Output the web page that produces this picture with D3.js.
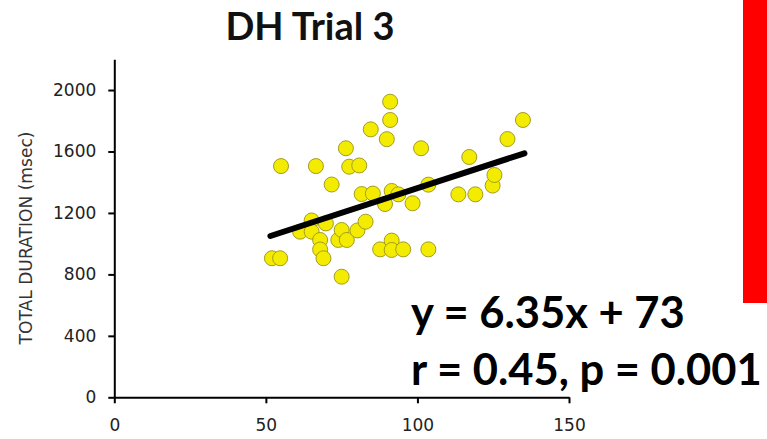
<!DOCTYPE html>
<html lang="en">
<head>
<meta charset="UTF-8">
<title>DH Trial 3</title>
<script src="https://d3js.org/d3.v7.min.js"></script>
<style>
    body { margin: 0; padding: 0; background: #fff; }
    svg { display: block; }
    .axis path, .axis line { stroke: #000; stroke-width: 2; }
</style>
</head>
<body>
<script>
    // data
    var speed = [52, 54.7, 55, 61.3, 65.1, 65.1, 66.5, 67.9, 67.9, 69, 69.8, 71.7, 73.9, 75, 75,
        76.4, 76.7, 77.5, 80.2, 80.8, 81.6, 82.9, 84.6, 85.3, 87.7, 89.3, 89.9, 91, 91, 91.5,
        91.5, 91.5, 93.7, 95.3, 98.4, 101.2, 103.6, 103.6, 113.5, 117.1, 119.1, 124.8, 125.4, 129.7, 134.8]
    var duration = [905, 905, 1505, 1078, 1151, 1078, 1505, 1024, 962, 905, 1132, 1385, 1024, 1089, 785,
        1621, 1024, 1501, 1086, 1509, 1323, 1143, 1744, 1326, 963, 1258, 1680, 1924, 1805, 1343,
        1020, 959, 1321, 963, 1263, 1621, 1384, 963, 1321, 1564, 1321, 1378, 1447, 1681, 1805]
    var fitX = [51.5, 135.3]
    var fitY = [1050, 1588]
    var xTicks = [0, 50, 100, 150]
    var yTicks = [0, 400, 800, 1200, 1600, 2000]
    var title = 'DH Trial 3'
    var yLabel = 'TOTAL DURATION (msec)'
    var statLines = ['y = 6.35x + 73', 'r = 0.45, p = 0.001']

    var svg = d3.select('body').append('svg')
        .attr('width', 767)
        .attr('height', 439)

    var x = d3.scaleLinear().domain([0, 150]).range([114.3, 569])
    var y = d3.scaleLinear().domain([0, 2200]).range([397.3, 59.3])

    var xAxis = svg.append('g')
        .attr('class', 'axis')
        .attr('transform', 'translate(0,' + y(0) + ')')
        .call(d3.axisBottom(x).tickValues(xTicks).tickFormat(d3.format('d'))
            .tickSize(6).tickSizeOuter(0).tickPadding(16))

    var yAxis = svg.append('g')
        .attr('class', 'axis')
        .attr('transform', 'translate(' + x(0) + ',0)')
        .call(d3.axisLeft(y).tickValues(yTicks).tickFormat(d3.format('d'))
            .tickSize(6).tickSizeOuter(0).tickPadding(12))

    svg.selectAll('.axis text')
        .style('font-family', '"DejaVu Sans", Verdana, sans-serif')
        .style('font-size', '17px')
        .style('fill', '#222')

    svg.append('text')
        .attr('transform', 'translate(32,238) rotate(-90)')
        .attr('text-anchor', 'middle')
        .attr('textLength', 213)
        .attr('lengthAdjust', 'spacingAndGlyphs')
        .style('font-family', '"DejaVu Sans", Verdana, sans-serif')
        .style('font-size', '17px')
        .style('fill', '#333')
        .text(yLabel)

    svg.append('text')
        .attr('x', 310)
        .attr('y', 40)
        .attr('text-anchor', 'middle')
        .style('font-family', 'Lato, sans-serif')
        .style('font-weight', 'bold')
        .style('font-size', '38px')
        .style('fill', '#111')
        .text(title)

    // points
    svg.selectAll('circle')
        .data(speed)
        .enter()
        .append('circle')
        .attr('cx', function (d) { return x(d) })
        .attr('cy', function (d, i) { return y(duration[i]) })
        .attr('r', 7.5)
        .attr('fill', '#f4ec00')
        .attr('stroke', '#a39c22')
        .attr('stroke-width', 1)

    // fit line
    svg.append('line')
        .attr('x1', x(fitX[0]))
        .attr('y1', y(fitY[0]))
        .attr('x2', x(fitX[1]))
        .attr('y2', y(fitY[1]))
        .attr('stroke', '#000')
        .attr('stroke-width', 6)
        .attr('stroke-linecap', 'round')

    svg.selectAll('.stat')
        .data(statLines)
        .enter()
        .append('text')
        .attr('class', 'stat')
        .attr('x', 411)
        .attr('y', function (d, i) { return 328 + i * 57 })
        .style('font-family', 'Lato, sans-serif')
        .style('font-weight', 'bold')
        .style('font-size', '43.5px')
        .style('fill', '#000')
        .text(function (d) { return d })

    // red box on the right edge
    svg.append('rect')
        .attr('x', 743)
        .attr('y', 0)
        .attr('width', 24)
        .attr('height', 303)
        .attr('fill', '#ff0000')
</script>
</body>
</html>
